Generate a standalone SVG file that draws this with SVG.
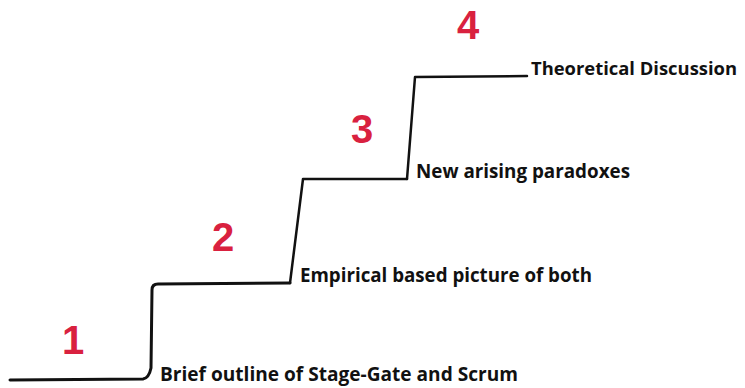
<svg xmlns="http://www.w3.org/2000/svg" width="745" height="388" viewBox="0 0 745 388">
<style>
.lbl{font-family:"Open Sans","Liberation Sans",sans-serif;font-weight:bold;font-size:20px;fill:#111;}
.num{font-family:"Liberation Sans","DejaVu Sans",sans-serif;font-weight:bold;font-size:40px;fill:#d9213f;text-anchor:middle;}
.stair{fill:none;stroke:#111;stroke-linecap:round;stroke-linejoin:round;}
</style>
<rect width="745" height="388" fill="#fff"/>
<g id="connectors">
<path class="stair" stroke-width="3" d="M10,380 L143,379 Q149,378 151,368 L152,290 Q152,284 158,284 L290,283"/>
<path class="stair" stroke-width="2.5" d="M290,283 L303,179 L407,179"/>
<path class="stair" stroke-width="2.5" d="M407,179 L415,77 L527,76"/>
<path class="stair" stroke-width="1" stroke="#888" d="M390,179 L407,179"/>
</g>
<g id="step1">
<text class="num" x="73" y="354">1</text>
<text class="lbl" x="160" y="381" textLength="358" lengthAdjust="spacingAndGlyphs">Brief outline of Stage-Gate and Scrum</text>
</g>
<g id="step2">
<text class="num" x="223" y="251">2</text>
<text class="lbl" x="300" y="282" textLength="292" lengthAdjust="spacingAndGlyphs">Empirical based picture of both</text>
</g>
<g id="step3">
<text class="num" x="362" y="143">3</text>
<text class="lbl" x="416" y="178" textLength="214" lengthAdjust="spacingAndGlyphs">New arising paradoxes</text>
</g>
<g id="step4">
<text class="num" x="468" y="39">4</text>
<text class="lbl" x="531" y="75" style="font-size:18px" textLength="206" lengthAdjust="spacingAndGlyphs">Theoretical Discussion</text>
</g>
</svg>
